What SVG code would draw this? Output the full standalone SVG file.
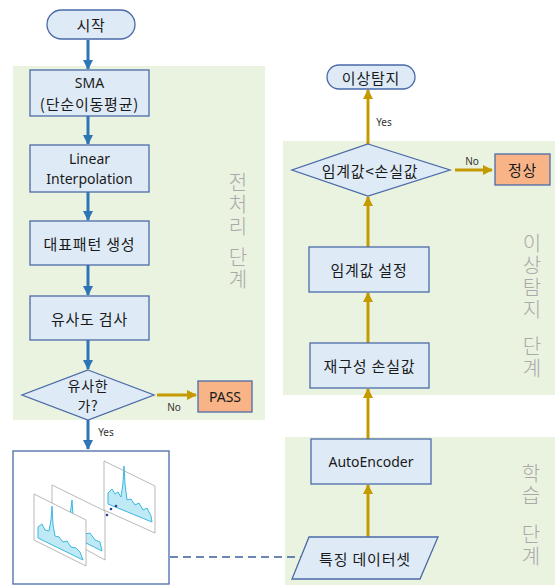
<svg xmlns="http://www.w3.org/2000/svg" width="555" height="585" viewBox="0 0 555 585">
<defs>
<style>
.bg{fill:#eaf3e0;stroke:none}
.box{fill:#deebf7;stroke:#4a6aa8;stroke-width:1.3}
.org{fill:#f8b487;stroke:#4a6aa8;stroke-width:1.3}
.t{font-family:"Noto Sans CJK KR","Noto Sans",sans-serif;font-size:15px;letter-spacing:0.8px;fill:#1a1a1a;text-anchor:middle;dominant-baseline:central}
.te{font-family:"Noto Sans","Noto Sans CJK KR",sans-serif;font-size:14px;fill:#1a1a1a;text-anchor:middle;dominant-baseline:central}
.sm{font-family:"Noto Sans","Noto Sans CJK KR",sans-serif;font-size:10px;fill:#333;text-anchor:middle;dominant-baseline:central}
.ph{font-family:"Noto Sans CJK KR",sans-serif;font-size:20px;font-weight:300;fill:#a9a9a9;writing-mode:vertical-rl;letter-spacing:2px}
.ab{stroke:#2e75b6;stroke-width:3;fill:none}
.ag{stroke:#c49a00;stroke-width:3;fill:none}
.panel{fill:#fff;stroke:#8a8a8a;stroke-width:0.6}
.plot{fill:#bfe9f5;stroke:#3cb8e0;stroke-width:1}
</style>
<marker id="hb" viewBox="0 0 10 10" refX="9" refY="5" markerWidth="3.4" markerHeight="3.4" orient="auto"><path d="M0,0L10,5L0,10z" fill="#2e75b6"/></marker>
<marker id="hg" viewBox="0 0 10 10" refX="9" refY="5" markerWidth="3.4" markerHeight="3.4" orient="auto"><path d="M0,0L10,5L0,10z" fill="#c49a00"/></marker>
</defs>
<rect width="555" height="585" fill="#fff"/>
<g id="phases">
<rect class="bg" x="13" y="66" width="252" height="354"/>
<rect class="bg" x="283" y="141" width="272" height="254"/>
<rect class="bg" x="285" y="437" width="270" height="148"/>
<text class="ph" x="238" y="172">전처리</text>
<text class="ph" x="238" y="247">단계</text>
<text class="ph" x="532" y="233">이상탐지</text>
<text class="ph" x="532" y="336">단계</text>
<text class="ph" x="531" y="463">학습</text>
<text class="ph" x="531" y="524">단계</text>
</g>
<g id="connectors">
<line class="ab" x1="88" y1="40" x2="88" y2="69" marker-end="url(#hb)"/>
<line class="ab" x1="88" y1="116" x2="88" y2="144" marker-end="url(#hb)"/>
<line class="ab" x1="88" y1="192" x2="88" y2="220" marker-end="url(#hb)"/>
<line class="ab" x1="88" y1="265" x2="88" y2="295" marker-end="url(#hb)"/>
<line class="ab" x1="88" y1="340" x2="88" y2="369" marker-end="url(#hb)"/>
<line class="ag" x1="157" y1="395" x2="196" y2="395" marker-end="url(#hg)"/>
<text class="sm" x="174" y="407">No</text>
<line class="ab" x1="88" y1="420" x2="88" y2="449" marker-end="url(#hb)"/>
<text class="sm" x="106" y="432">Yes</text>
<line x1="170" y1="557" x2="302" y2="557" stroke="#3c5f9c" stroke-width="1.6" stroke-dasharray="8,5"/>
<line class="ag" x1="368" y1="537" x2="368" y2="485" marker-end="url(#hg)"/>
<line class="ag" x1="368" y1="439" x2="368" y2="389" marker-end="url(#hg)"/>
<line class="ag" x1="368" y1="343" x2="368" y2="293" marker-end="url(#hg)"/>
<line class="ag" x1="368" y1="247" x2="368" y2="197" marker-end="url(#hg)"/>
<line class="ag" x1="368" y1="144" x2="368" y2="90" marker-end="url(#hg)"/>
<text class="sm" x="384" y="122">Yes</text>
<line class="ag" x1="455" y1="170" x2="492" y2="170" marker-end="url(#hg)"/>
<text class="sm" x="472" y="161">No</text>
</g>
<g id="start">
<rect class="box" x="47" y="10" width="88" height="29" rx="14.5"/>
<text class="t" x="91" y="24.5">시작</text>
</g>
<g id="sma">
<rect class="box" x="30" y="70" width="119" height="46"/>
<text class="te" x="89.5" y="82">SMA</text>
<text class="t" x="89.5" y="103">(단순이동평균)</text>
</g>
<g id="linear">
<rect class="box" x="30" y="145" width="119" height="47"/>
<text class="te" x="89.5" y="158.5">Linear</text>
<text class="te" x="89.5" y="178">Interpolation</text>
</g>
<g id="pattern">
<rect class="box" x="30" y="221" width="119" height="44"/>
<text class="t" x="89.5" y="243">대표패턴 생성</text>
</g>
<g id="similarity">
<rect class="box" x="30" y="296" width="119" height="44"/>
<text class="t" x="89.5" y="318">유사도 검사</text>
</g>
<g id="similar-q">
<polygon class="box" points="88,370 154,395 88,420 22,395"/>
<text class="t" x="88" y="384.5" style="font-size:14px">유사한</text>
<text class="t" x="88" y="405" style="font-size:14px">가?</text>
</g>
<g id="pass">
<rect class="org" x="198" y="381" width="54" height="31"/>
<text class="te" x="225" y="396.5">PASS</text>
</g>
<g id="charts">
<rect x="13" y="451" width="156" height="133" fill="#fff" stroke="#4a6aa8" stroke-width="1.3"/>
<polygon class="panel" points="104,461 155,486 155,533 104,510"/>
<path class="plot" d="M108,493 L112,489 L115,494 L118,492 L121,497 L123,483 L124,466 L125,484 L127,500 L131,499 L135,505 L139,503 L143,510 L147,508 L151,516 L152,522 L108,504 Z"/>
<polygon class="panel" points="52,485 105,511 105,560 52,531"/>
<path class="plot" d="M56,516 L60,512 L63,518 L67,520 L70,515 L72,500 L73,515 L77,528 L81,527 L85,534 L90,533 L95,540 L100,542 L102,551 L56,528 Z"/>
<polygon class="panel" points="34,494 86,520 86,566 34,540"/>
<path class="plot" d="M38,527 L42,524 L45,530 L49,531 L51,520 L52,506 L53,525 L55,536 L59,537 L63,542 L67,541 L71,547 L76,548 L80,552 L83,560 L38,538 Z"/>
<circle cx="107" cy="515" r="1.3" fill="#2b3f9c"/>
<circle cx="111" cy="509" r="1.3" fill="#2b3f9c"/>
<circle cx="116" cy="506" r="1.3" fill="#2b3f9c"/>
</g>
<g id="anomaly">
<rect class="box" x="327" y="65" width="88" height="24" rx="12"/>
<text class="t" x="371" y="77">이상탐지</text>
</g>
<g id="threshold-q">
<polygon class="box" points="368,144 450,170 368,196 292,170"/>
<text class="t" x="370" y="170">임계값&lt;손실값</text>
</g>
<g id="normal">
<rect class="org" x="495" y="154" width="55" height="31"/>
<text class="t" x="522.5" y="169.5">정상</text>
</g>
<g id="threshold">
<rect class="box" x="309" y="247" width="120" height="45"/>
<text class="t" x="369" y="269.5">임계값 설정</text>
</g>
<g id="recon">
<rect class="box" x="310" y="343" width="119" height="45"/>
<text class="t" x="369.5" y="365.5">재구성 손실값</text>
</g>
<g id="autoencoder">
<rect class="box" x="311" y="439" width="120" height="45"/>
<text class="te" x="371" y="461.5">AutoEncoder</text>
</g>
<g id="dataset">
<polygon class="box" points="309,537 438,537 420,579 292,579"/>
<text class="t" x="365" y="558">특징 데이터셋</text>
</g>
</svg>
